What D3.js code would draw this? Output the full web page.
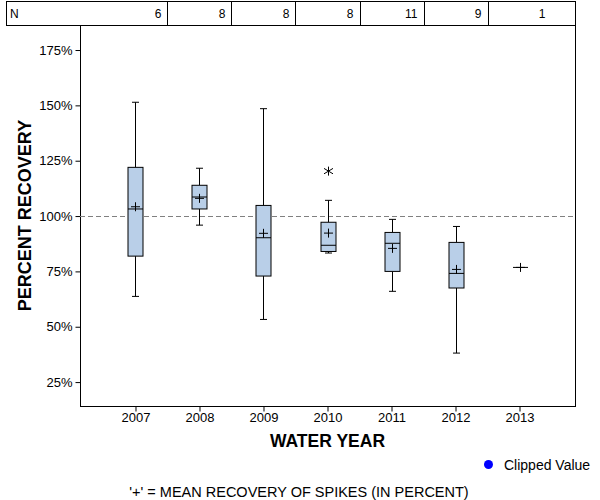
<!DOCTYPE html>
<html><head><meta charset="utf-8">
<script src="https://cdn.jsdelivr.net/npm/d3@7"></script>
<style>body{margin:0;background:#fff;} svg{display:block;font-family:"Liberation Sans",Arial,sans-serif;}</style>
</head><body>
<svg id="chart" width="600" height="500"></svg>
<script>
const years = ["2007","2008","2009","2010","2011","2012","2013"];
const nCounts = [6, 8, 8, 8, 11, 9, 1];
const whiskerLow  = [63.7, 95.9, 53.3, 83.3, 66.0, 38.1, null];
const q1          = [81.9, 103.2, 72.9, 84.0, 75.0, 67.5, null];
const medians     = [103.2, 108.6, 90.2, 86.8, 87.7, 74.1, 76.8];
const q3          = [122.0, 113.9, 104.8, 97.2, 92.6, 88.1, null];
const whiskerHigh = [151.4, 121.6, 148.5, 107.1, 98.5, 95.3, null];
const means       = [104.2, 108.0, 92.2, 92.3, 85.4, 75.9, 76.8];
const outlierYears = ["2010"];
const outlierValues = [120.3];
const yTicks = [25, 50, 75, 100, 125, 150, 175];
const referenceValue = 100;

const svg = d3.select("#chart");
const L = 80, R = 575, T = 25, B = 406;
const x = d3.scalePoint().domain(years).range([L, R]).padding(0.867);
const y = d3.scaleLinear().domain([14.2, 186.3]).range([B, T]);
const step = x.step();

// N table
const tableTop = 1, tableLeft = 6;
const tg = svg.append("g");
tg.append("rect").attr("x", tableLeft + 0.5).attr("y", tableTop + 0.5)
  .attr("width", R - tableLeft).attr("height", T - tableTop)
  .attr("fill", "none").attr("stroke", "#000");
years.forEach((yr, i) => {
  const right = x(yr) + step / 2;
  if (i < years.length - 1) {
    tg.append("line").attr("x1", Math.round(right) + 0.5).attr("x2", Math.round(right) + 0.5)
      .attr("y1", tableTop).attr("y2", T).attr("stroke", "#000");
  }
  tg.append("text").attr("x", Math.min(right, R) - 6).attr("y", 18)
    .attr("text-anchor", "end").attr("font-size", 12).attr("fill", "#000").text(nCounts[i]);
});
tg.append("text").attr("x", tableLeft + 4).attr("y", 18).attr("font-size", 12).attr("fill", "#000").text("N");

// frame
svg.append("rect").attr("x", L + 0.5).attr("y", T + 0.5).attr("width", R - L).attr("height", B - T)
  .attr("fill", "none").attr("stroke", "#000");

// axes
const yAxis = d3.axisLeft(y).tickValues(yTicks).tickFormat(d => d + "%").tickSize(5).tickPadding(3);
const gy = svg.append("g").attr("transform", `translate(${L + 0.5},0)`).call(yAxis);
gy.select(".domain").remove();
gy.selectAll("text").attr("font-size", 13).attr("font-family", "Liberation Sans, Arial, sans-serif").attr("fill", "#000");

const xAxis = d3.axisBottom(x).tickSize(5).tickPadding(1);
const gx = svg.append("g").attr("transform", `translate(0,${B + 0.5})`).call(xAxis);
gx.select(".domain").remove();
gx.selectAll("text").attr("font-size", 13).attr("font-family", "Liberation Sans, Arial, sans-serif").attr("fill", "#000");

// reference line
svg.append("line").attr("x1", L).attr("x2", R)
  .attr("y1", Math.round(y(referenceValue)) + 0.5).attr("y2", Math.round(y(referenceValue)) + 0.5)
  .attr("stroke", "#808080").attr("stroke-dasharray", "5,3");

// boxes
const bw = 15, cap = 7, plus = 9;
const g = svg.append("g");
years.forEach((yr, i) => {
  const cx = Math.round(x(yr)) + 0.5;
  if (q1[i] !== null) {
    g.append("line").attr("x1", cx).attr("x2", cx).attr("y1", y(whiskerHigh[i])).attr("y2", y(q3[i])).attr("stroke", "#000");
    g.append("line").attr("x1", cx).attr("x2", cx).attr("y1", y(q1[i])).attr("y2", y(whiskerLow[i])).attr("stroke", "#000");
    g.append("line").attr("x1", cx - cap / 2).attr("x2", cx + cap / 2).attr("y1", y(whiskerHigh[i])).attr("y2", y(whiskerHigh[i])).attr("stroke", "#000");
    g.append("line").attr("x1", cx - cap / 2).attr("x2", cx + cap / 2).attr("y1", y(whiskerLow[i])).attr("y2", y(whiskerLow[i])).attr("stroke", "#000");
    g.append("rect").attr("x", cx - bw / 2).attr("y", y(q3[i])).attr("width", bw).attr("height", y(q1[i]) - y(q3[i]))
      .attr("fill", "#b9cfe8").attr("stroke", "#000");
  }
  g.append("line").attr("x1", cx - bw / 2).attr("x2", cx + bw / 2).attr("y1", y(medians[i])).attr("y2", y(medians[i])).attr("stroke", "#000");
  const my = y(means[i]);
  g.append("line").attr("x1", cx - plus / 2).attr("x2", cx + plus / 2).attr("y1", my).attr("y2", my).attr("stroke", "#000");
  g.append("line").attr("x1", cx).attr("x2", cx).attr("y1", my - plus / 2).attr("y2", my + plus / 2).attr("stroke", "#000");
});

// outliers (asterisk)
outlierYears.forEach((yr, i) => {
  const cx = Math.round(x(yr)) + 0.5, cy = y(outlierValues[i]);
  const s = 4.5;
  g.append("path").attr("d",
    `M${cx},${cy - s}V${cy + s}M${cx - s},${cy - s * 0.6}L${cx + s},${cy + s * 0.6}M${cx - s},${cy + s * 0.6}L${cx + s},${cy - s * 0.6}`)
    .attr("stroke", "#000").attr("fill", "none");
});

// titles
svg.append("text").attr("x", (L + R) / 2).attr("y", 447).attr("text-anchor", "middle")
  .attr("font-size", 17.5).attr("font-weight", "bold").text("WATER YEAR");
svg.append("text").attr("transform", `translate(31,${(T + B) / 2}) rotate(-90)`).attr("text-anchor", "middle")
  .attr("font-size", 18).attr("font-weight", "bold").text("PERCENT RECOVERY");

// legend
svg.append("circle").attr("cx", 488.5).attr("cy", 464.5).attr("r", 4.5).attr("fill", "#0000ff");
svg.append("text").attr("x", 504).attr("y", 470).attr("font-size", 14).text("Clipped Value");

// footnote
svg.append("text").attr("x", 299).attr("y", 497).attr("text-anchor", "middle")
  .attr("font-size", 14.5).text("'+' = MEAN RECOVERY OF SPIKES (IN PERCENT)");
</script>
</body></html>
